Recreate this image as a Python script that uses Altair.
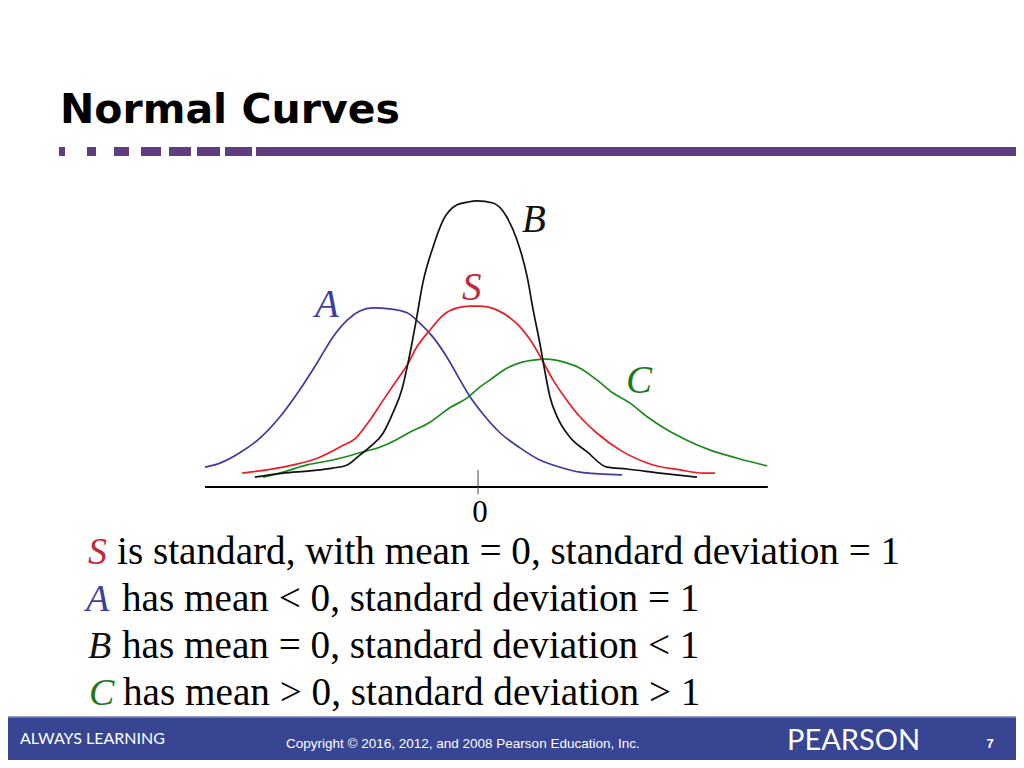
import altair as alt
import pandas as pd

# ---------------- data ----------------
title = "Normal Curves"
A_x = [-4.55, -4.30, -3.97, -3.63, -3.30, -2.97, -2.68, -2.42, -2.18, -1.97, -1.75, -1.47, -1.18,
       -0.97, -0.75, -0.52, -0.30, -0.13, 0.03, 0.37, 0.70, 1.03, 1.37, 1.70, 2.03, 2.40]
A_y = [0.044, 0.053, 0.076, 0.109, 0.156, 0.216, 0.276, 0.333, 0.371, 0.391, 0.398, 0.396, 0.387,
       0.364, 0.333, 0.289, 0.238, 0.200, 0.171, 0.120, 0.087, 0.060, 0.044, 0.033, 0.029, 0.027]
B_x = [-3.72, -3.25, -2.80, -2.42, -2.18, -1.97, -1.80, -1.58, -1.42, -1.27, -1.18, -1.10, -1.02,
       -0.92, -0.75, -0.58, -0.35, -0.18, -0.02, 0.25, 0.48, 0.65, 0.82, 0.92, 1.03, 1.12, 1.20,
       1.32, 1.53, 1.82, 2.15, 2.48, 3.03, 3.65]
B_y = [0.022, 0.031, 0.036, 0.042, 0.049, 0.071, 0.089, 0.120, 0.164, 0.216, 0.267, 0.320, 0.378,
       0.453, 0.533, 0.593, 0.627, 0.633, 0.636, 0.631, 0.600, 0.549, 0.467, 0.393, 0.320, 0.253,
       0.200, 0.156, 0.111, 0.078, 0.044, 0.040, 0.031, 0.022]
S_x = [-3.93, -3.52, -3.08, -2.68, -2.30, -2.02, -1.80, -1.58, -1.35, -1.18, -1.02, -0.80, -0.58,
       -0.35, -0.13, 0.03, 0.32, 0.58, 0.70, 0.87, 1.07, 1.25, 1.48, 1.70, 1.98, 2.37, 2.92, 3.37,
       3.75, 3.95]
S_y = [0.031, 0.038, 0.049, 0.064, 0.089, 0.111, 0.149, 0.193, 0.238, 0.271, 0.311, 0.349, 0.382,
       0.398, 0.402, 0.402, 0.393, 0.371, 0.356, 0.327, 0.282, 0.238, 0.193, 0.156, 0.120, 0.082,
       0.049, 0.038, 0.031, 0.031]
C_x = [-3.58, -3.25, -2.85, -2.42, -1.97, -1.63, -1.47, -1.13, -0.80, -0.47, -0.18, 0.03, 0.20,
       0.48, 0.75, 0.92, 1.15, 1.42, 1.70, 1.98, 2.25, 2.53, 2.82, 3.15, 3.48, 3.87, 4.32, 4.82]
C_y = [0.022, 0.033, 0.049, 0.060, 0.076, 0.089, 0.098, 0.122, 0.144, 0.176, 0.198, 0.222, 0.238,
       0.264, 0.278, 0.282, 0.284, 0.278, 0.264, 0.238, 0.209, 0.187, 0.156, 0.127, 0.104, 0.082,
       0.064, 0.047]
axis_extent = [-4.55, 4.83]
zero_label = "0"
curve_names = ["C", "A", "S", "B"]
body_letters = ["S", "A", "B", "C"]
body_rest = ["is standard, with mean = 0, standard deviation = 1",
             "has mean < 0, standard deviation = 1",
             "has mean = 0, standard deviation < 1",
             "has mean > 0, standard deviation > 1"]
footer_left = "ALWAYS LEARNING"
footer_mid = "Copyright \u00a9 2016, 2012, and 2008 Pearson Education, Inc."
footer_brand = "PEARSON"
page_no = "7"

# ---------------- layout / style ----------------
W, H = 1008, 752
def sx(v):  # page pixel -> chart pixel (8px page margin)
    return v - 8
X0, XU = sx(478), 60.0
Y0, YU = sx(487), 450.0
xscale = alt.Scale(domain=[-X0 / XU, (W - X0) / XU], nice=False, zero=False)
yscale = alt.Scale(domain=[(Y0 - H) / YU, Y0 / YU], nice=False, zero=False)

line_colors = {"A": "#3b3b9d", "B": "#111111", "S": "#ec1c24", "C": "#1b8a1b"}
label_colors = {"A": "#3e3e9e", "B": "#111111", "S": "#c2283c", "C": "#1b7a1b"}
PURPLE = "#5f3d80"
BAND = "#374593"
SERIF = "Liberation Serif"

one = pd.DataFrame({"k": [0]})

def text_layer(txt, x, y, size, color="black", font=SERIF, style="normal",
               weight="normal", align="left"):
    return alt.Chart(pd.DataFrame({"t": [txt]})).mark_text(
        align=align, baseline="alphabetic", font=font, fontSize=size,
        fontStyle=style, fontWeight=weight, color=color
    ).encode(x=alt.value(x), y=alt.value(y), text="t:N")

def rect_layer(x1, x2, y1, y2, color):
    return alt.Chart(one).mark_rect(color=color).encode(
        x=alt.value(x1), x2=alt.value(x2), y=alt.value(y1), y2=alt.value(y2))

layers = []

# title and purple dashed rule
layers.append(text_layer(title, sx(60), sx(123), 41, font="DejaVu Sans", weight="bold"))
dashes = [(59, 65), (87, 96), (114, 129), (141, 161), (169, 191), (197, 220), (225, 252), (256, 1030)]
for a, b in dashes:
    layers.append(rect_layer(sx(a), sx(b), sx(147), sx(156), PURPLE))

# curves
series = {"A": (A_x, A_y), "B": (B_x, B_y), "S": (S_x, S_y), "C": (C_x, C_y)}
rows = []
for name in curve_names:
    xs, ys = series[name]
    for i, (a, b) in enumerate(zip(xs, ys)):
        rows.append({"curve": name, "x": a, "y": b, "i": i})
curves = pd.DataFrame(rows)
layers.append(alt.Chart(curves).mark_line(strokeWidth=1.7, interpolate="monotone").encode(
    x=alt.X("x:Q", scale=xscale, axis=None),
    y=alt.Y("y:Q", scale=yscale, axis=None),
    color=alt.Color("curve:N", scale=alt.Scale(domain=list(line_colors.keys()),
                                                range=list(line_colors.values())), legend=None),
    detail="curve:N",
    order="i:Q",
))

# horizontal axis, tick at 0, label
layers.append(alt.Chart(pd.DataFrame({"x0": [axis_extent[0]], "x1": [axis_extent[1]], "y0": [0.0]}))
              .mark_rule(color="black", strokeWidth=2)
              .encode(x=alt.X("x0:Q", scale=xscale, axis=None), x2="x1:Q",
                      y=alt.Y("y0:Q", scale=yscale, axis=None)))
layers.append(alt.Chart(pd.DataFrame({"x0": [0.0], "y0": [0.038], "y1": [-0.016]}))
              .mark_rule(color="#444444", strokeWidth=1)
              .encode(x=alt.X("x0:Q", scale=xscale, axis=None),
                      y=alt.Y("y0:Q", scale=yscale, axis=None), y2="y1:Q"))
layers.append(alt.Chart(pd.DataFrame({"x0": [0.0], "t": [zero_label]}))
              .mark_text(font=SERIF, fontSize=31, baseline="alphabetic", align="center", dx=2)
              .encode(x=alt.X("x0:Q", scale=xscale, axis=None), y=alt.value(sx(522)), text="t:N"))

# curve labels
label_pos = {"B": (522, 232), "S": (462, 300), "A": (315, 317), "C": (626, 393)}
for name, (lx, ly) in label_pos.items():
    layers.append(text_layer(name, sx(lx), sx(ly), 39, color=label_colors[name], style="italic"))

# body text
letter_x = [88, 86, 88, 89]
rest_x = [117, 122, 122, 123]
base_y = [564, 611, 658, 705]
for L, R, lx, rx, by in zip(body_letters, body_rest, letter_x, rest_x, base_y):
    layers.append(text_layer(L, sx(lx), sx(by), 38, color=label_colors[L], style="italic"))
    layers.append(text_layer(R, sx(rx), sx(by), 39.2))

# footer band
layers.append(rect_layer(sx(-10), sx(1040), sx(717), sx(780), BAND))
layers.append(rect_layer(sx(-10), sx(1040), sx(716), sx(717.5), "#9aa1cc"))
layers.append(text_layer(footer_left, sx(20), sx(744), 16, color="white", font="Lato"))
layers.append(text_layer(footer_mid, sx(286), sx(748), 13.5, color="white", font="Liberation Sans"))
layers.append(text_layer(footer_brand, sx(787), sx(750), 29, color="white", font="Lato"))
layers.append(text_layer(page_no, sx(990), sx(748), 13, color="white", font="Liberation Sans",
                         weight="bold", align="center"))

chart = alt.layer(*layers).properties(
    width=W, height=H, padding=0, autosize="none", background="white"
).configure_view(stroke=None)

chart.save("out.html", embed_options={"renderer": "svg", "actions": False})
